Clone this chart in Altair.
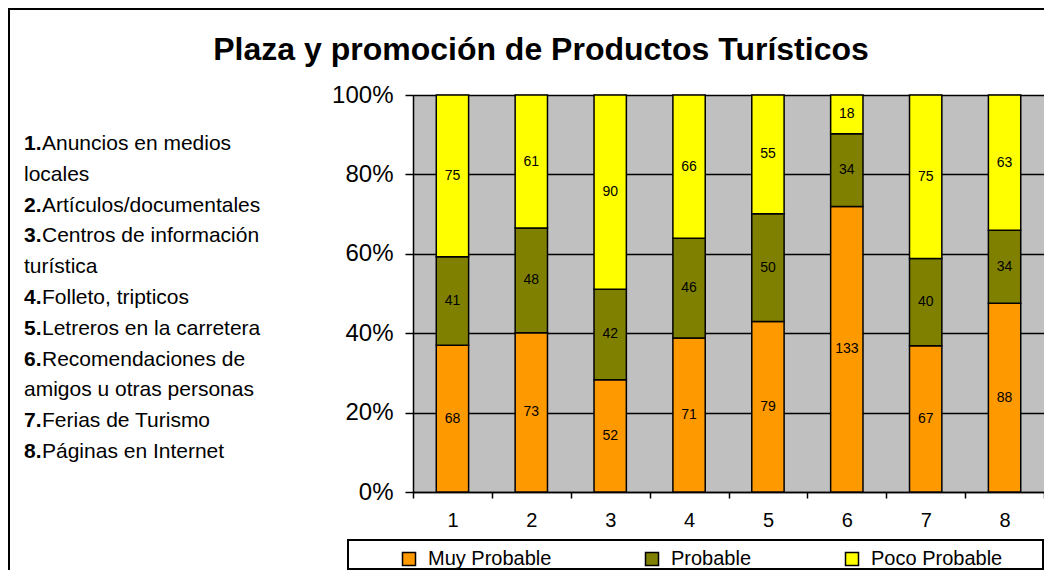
import altair as alt
import pandas as pd

# ---- data ----
categories = ["1", "2", "3", "4", "5", "6", "7", "8"]
series = ["Muy Probable", "Probable", "Poco Probable"]
muy_probable = [68, 73, 52, 71, 79, 133, 67, 88]
probable = [41, 48, 42, 46, 50, 34, 40, 34]
poco_probable = [75, 61, 90, 66, 55, 18, 75, 63]
colors = ["#FF9900", "#808000", "#FFFF00"]

title_text = "Plaza y promoción de Productos Turísticos"
note_nums = ["1.", "", "2.", "3.", "", "4.", "5.", "6.", "", "7.", "8."]
note_texts = ["Anuncios en medios", "locales", "Artículos/documentales",
              "Centros de información", "turística", "Folleto, tripticos",
              "Letreros en la carretera", "Recomendaciones de",
              "amigos u otras personas", "Ferias de Turismo", "Páginas en Internet"]

rows = []
for si, (name, vals) in enumerate(zip(series, [muy_probable, probable, poco_probable])):
    for c, v in zip(categories, vals):
        rows.append({"cat": c, "serie": name, "idx": si, "value": v})
df = pd.DataFrame(rows)

notes = pd.DataFrame({"num": note_nums, "txt": note_texts, "i": list(range(len(note_texts)))})

FONT = "Liberation Sans"
W, H = 631, 397

xscale = alt.Scale(domain=categories, paddingInner=0, paddingOuter=0)
yscale = alt.Scale(domain=[0, 1], nice=False)

base = alt.Chart(df).transform_stack(
    stack="value", groupby=["cat"], as_=["y0", "y1"], offset="normalize",
    sort=[alt.SortField("idx", order="ascending")]
)

bars = base.mark_bar(width=alt.RelativeBandSize(0.41), stroke="black", strokeWidth=1.5).encode(
    x=alt.X("cat:N", scale=xscale, sort=categories, title=None,
            axis=alt.Axis(labelAngle=0, labelFontSize=20, labelColor="black", tickColor="black",
                          tickSize=6, tickWidth=1.5, tickBand="extent", domainColor="black",
                          domainWidth=1.5, labelPadding=12, grid=False)),
    y=alt.Y("y0:Q", scale=yscale, title=None,
            axis=alt.Axis(values=[0, 0.2, 0.4, 0.6, 0.8, 1.0], format=".0%", labelFontSize=24,
                          labelColor="black", tickColor="black", tickSize=8, tickWidth=1.5,
                          labelPadding=12, domainColor="black", domainWidth=1.5,
                          grid=True, gridColor="black", gridWidth=1.3)),
    y2="y1:Q",
    color=alt.Color("serie:N", scale=alt.Scale(domain=series, range=colors),
                    legend=alt.Legend(title=None, orient="none", legendX=-14, legendY=454,
                                      direction="horizontal", symbolType="square",
                                      symbolSize=169, symbolStrokeColor="black",
                                      symbolStrokeWidth=1.5, labelFontSize=20,
                                      labelColor="black", labelOffset=9, columnPadding=90,
                                      padding=0)),
    order=alt.Order("idx:Q", sort="ascending"),
)

labels = base.transform_calculate(mid="(datum.y0 + datum.y1) / 2").mark_text(
    fontSize=14, color="black", font=FONT
).encode(
    x=alt.X("cat:N", scale=xscale, sort=categories, axis=None),
    y=alt.Y("mid:Q", scale=yscale, axis=None),
    text="value:Q",
)

title = alt.Chart(pd.DataFrame({"t": [title_text]})).mark_text(
    fontSize=32, fontWeight="bold", font=FONT, color="black", align="center", baseline="middle"
).encode(x=alt.value(128), y=alt.value(-45), text="t:N")

note_base = alt.Chart(notes).transform_calculate(
    ypx="49 + datum.i * 30.8",
    xpx="datum.num == '' ? -389 : -371",
)
note_nums_layer = note_base.transform_filter("datum.num != ''").mark_text(
    fontSize=21, fontWeight="bold", font=FONT, color="black", align="left", baseline="middle"
).encode(x=alt.value(-389), y=alt.Y("ypx:Q", scale=None, axis=None), text="num:N")
note_txt_layer = note_base.mark_text(
    fontSize=21, font=FONT, color="black", align="left", baseline="middle"
).encode(x=alt.X("xpx:Q", scale=None, axis=None), y=alt.Y("ypx:Q", scale=None, axis=None),
         text="txt:N")

frame = alt.Chart(pd.DataFrame({"a": [0]})).mark_rect(
    filled=False, stroke="black", strokeWidth=2
).encode(x=alt.value(-404), x2=alt.value(700), y=alt.value(-86), y2=alt.value(600))

legend_box = alt.Chart(pd.DataFrame({"a": [0]})).mark_rect(
    filled=False, stroke="black", strokeWidth=2
).encode(x=alt.value(-65), x2=alt.value(630), y=alt.value(445), y2=alt.value(474))

chart = alt.layer(
    bars, labels, title, note_nums_layer, note_txt_layer, frame, legend_box
).resolve_scale(x="independent", y="independent").properties(
    width=W, height=H,
    autosize=alt.AutoSizeParams(type="none"),
    padding={"left": 405, "top": 87, "right": 0, "bottom": 78},
).configure(font=FONT).configure_view(fill="#C0C0C0", stroke="#808080", strokeWidth=1)

chart.save("out.html", embed_options={"renderer": "svg", "actions": False})
